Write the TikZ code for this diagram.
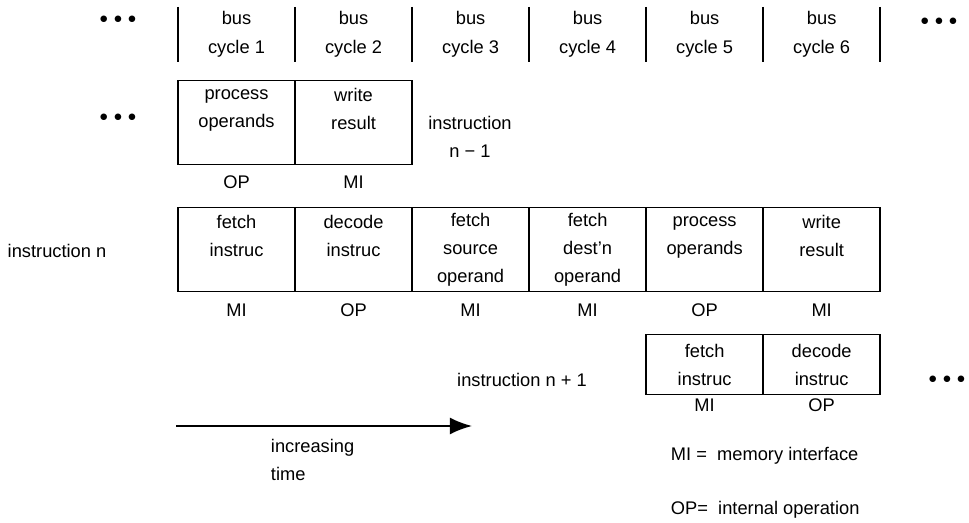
\documentclass[tikz,border=0pt]{standalone}
\usepackage{fontspec}
\setmainfont{Liberation Sans}
\usetikzlibrary{arrows.meta, positioning}

\begin{document}
\begin{tikzpicture}[
    x=0.025cm, y=-0.025cm,
    node distance=0pt,
    every node/.style={font=\fontsize{13pt}{20pt}\selectfont, align=center},
    cell/.style={draw, line width=1.1pt, outer sep=0pt, minimum width=2.925cm, minimum height=2.1cm},
    lowcell/.style={cell, minimum height=1.5cm},
    buscycle/.style={outer sep=0pt, minimum width=2.925cm, minimum height=1.3cm},
    bar/.style={line width=1.1pt},
    optag/.style={inner sep=0pt},
    ellip/.style={inner sep=0pt},
    arrow/.style={-{Latex[length=0.55cm, width=0.42cm]}, line width=1.2pt}
]
\useasboundingbox (0,0) rectangle (969,523);

% bus cycles
\node[buscycle, anchor=north west] (c1) at (178,7) {bus\\cycle 1};
\node[buscycle, right=of c1] (c2) {bus\\cycle 2};
\node[buscycle, right=of c2] (c3) {bus\\cycle 3};
\node[buscycle, right=of c3] (c4) {bus\\cycle 4};
\node[buscycle, right=of c4] (c5) {bus\\cycle 5};
\node[buscycle, right=of c5] (c6) {bus\\cycle 6};
\draw[bar] (c1.north west) -- (c1.south west);
\draw[bar] (c2.north west) -- (c2.south west);
\draw[bar] (c3.north west) -- (c3.south west);
\draw[bar] (c4.north west) -- (c4.south west);
\draw[bar] (c5.north west) -- (c5.south west);
\draw[bar] (c6.north west) -- (c6.south west);
\draw[bar] (c6.north east) -- (c6.south east);

% instruction n-1
\node[cell, below=0.475cm of c1] (p1) {process\\operands\\~};
\node[cell, right=of p1] (p2) {write\\result\\~};
\node[optag, below=0.27cm of p1] (p1t) {OP};
\node[optag, below=0.27cm of p2] (p2t) {MI};
\node (prev) at (470,137) {instruction\\n − 1};

% instruction n
\node[cell, below=1.075cm of p1] (n1) {fetch\\instruc\\~};
\node[cell, right=of n1] (n2) {decode\\instruc\\~};
\node[cell, right=of n2] (n3) {fetch\\source\\operand};
\node[cell, right=of n3] (n4) {fetch\\dest’n\\operand};
\node[cell, right=of n4] (n5) {process\\operands\\~};
\node[cell, right=of n5] (n6) {write\\result\\~};
\node[optag, below=0.3cm of n1] (n1t) {MI};
\node[optag, below=0.3cm of n2] (n2t) {OP};
\node[optag, below=0.3cm of n3] (n3t) {MI};
\node[optag, below=0.3cm of n4] (n4t) {MI};
\node[optag, below=0.3cm of n5] (n5t) {OP};
\node[optag, below=0.3cm of n6] (n6t) {MI};
\node (curr) at (57,251) {instruction n};

% instruction n+1
\node[lowcell, below=1.075cm of n5] (q1) {fetch\\instruc};
\node[lowcell, right=of q1] (q2) {decode\\instruc};
\node[optag, below=0.1cm of q1] (q1t) {MI};
\node[optag, below=0.1cm of q2] (q2t) {OP};
\node (next) at (522,380) {instruction n + 1};

% continuation dots
\node[ellip] (d1) at (118,20) {$\bullet$\hspace{4pt}$\bullet$\hspace{4pt}$\bullet$};
\node[ellip] (d2) at (118,118) {$\bullet$\hspace{4pt}$\bullet$\hspace{4pt}$\bullet$};
\node[ellip] (d3) at (939,22) {$\bullet$\hspace{4pt}$\bullet$\hspace{4pt}$\bullet$};
\node[ellip] (d4) at (947,380) {$\bullet$\hspace{4pt}$\bullet$\hspace{4pt}$\bullet$};

% time axis
\coordinate (t0) at (176,426);
\coordinate (t1) at (472,426);
\draw[arrow] (t0) -- (t1);
\node[anchor=west, align=left] (time) at (266,460) {increasing\\time};

% legend
\node[anchor=west] (mi) at (666,456) {MI =\ \ memory interface};
\node[anchor=west] (op) at (666,510) {OP=\ \ internal operation};
\end{tikzpicture}
\end{document}
